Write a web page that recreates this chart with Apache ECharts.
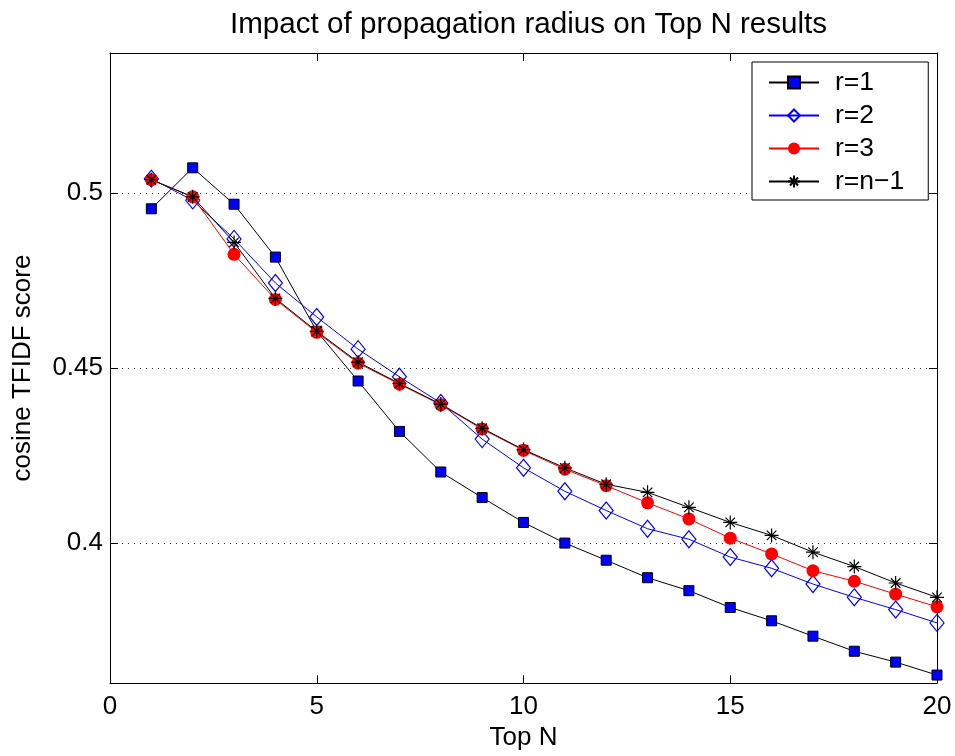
<!DOCTYPE html>
<html>
<head>
<meta charset="utf-8">
<script src="https://cdn.jsdelivr.net/npm/echarts@6/dist/echarts.min.js"></script>
<style>html,body{margin:0;padding:0;background:#fff}#c{width:955px;height:756px}</style>
</head>
<body>
<div id="c"></div>
<script>
const topN = [1,2,3,4,5,6,7,8,9,10,11,12,13,14,15,16,17,18,19,20];
const r1 = [0.4955,0.5072,0.4968,0.4817,0.4605,0.4463,0.4319,0.4203,0.4130,0.4059,0.4000,0.3951,0.3901,0.3864,0.3816,0.3778,0.3734,0.3691,0.3660,0.3623];
const r2 = [0.5041,0.4979,0.4869,0.4743,0.4646,0.4554,0.4475,0.4400,0.4297,0.4215,0.4148,0.4093,0.4041,0.4011,0.3960,0.3928,0.3883,0.3845,0.3810,0.3772];
const r3 = [0.5038,0.4989,0.4825,0.4696,0.4602,0.4514,0.4454,0.4395,0.4326,0.4265,0.4211,0.4164,0.4115,0.4069,0.4014,0.3969,0.3921,0.3891,0.3854,0.3818];
const rn = [0.5038,0.4989,0.4859,0.4699,0.4605,0.4517,0.4456,0.4397,0.4328,0.4267,0.4215,0.4168,0.4145,0.4102,0.4059,0.4022,0.3974,0.3933,0.3886,0.3845];
const seriesNames = ['r=1','r=2','r=3','r=n\u22121'];
const yTicks = [0.4, 0.45, 0.5];
const xMin = 0, xMax = 20, xStep = 5;
const yMin = 0.36, yMax = 0.54;

const FONT = 'Liberation Sans, Arial, Helvetica, sans-serif';
const pairs = arr => arr.map((v, i) => [topN[i], v]);
const STAR = 'path://M5 0 L5 10 M0 5 L10 5 M1.6 1.6 L8.4 8.4 M1.6 8.4 L8.4 1.6';

const chart = echarts.init(document.getElementById('c'), null, {renderer: 'canvas'});
const axisCommon = {
  axisLine: {show: true, onZero: false, lineStyle: {color: '#000', width: 1}},
  axisTick: {show: true, inside: true, length: 8, lineStyle: {color: '#000', width: 1}},
};
chart.setOption({
  animation: false,
  backgroundColor: '#fff',
  textStyle: {fontFamily: FONT},
  title: {
    text: 'Impact of propagation radius on Top N results',
    left: 225, top: 5,
    textStyle: {fontFamily: FONT, fontSize: 29.6, fontWeight: 'normal', color: '#000'}
  },
  grid: {left: 110, right: 18, top: 53, bottom: 68, containLabel: false},
  legend: {
    orient: 'vertical',
    left: 752, top: 62,
    itemWidth: 50, itemHeight: 15, itemGap: 6,
    padding: [7, 24, 5, 16],
    backgroundColor: '#fff',
    borderColor: '#000', borderWidth: 1,
    textStyle: {fontFamily: FONT, fontSize: 26.5, color: '#000', padding: [0, 0, 0, 11]},
    data: seriesNames
  },
  xAxis: [
    Object.assign({}, axisCommon, {
      type: 'value', min: xMin, max: xMax, interval: xStep, position: 'bottom',
      name: 'Top N', nameLocation: 'middle', nameGap: 38,
      nameTextStyle: {fontFamily: FONT, fontSize: 26, color: '#000'},
      axisLabel: {show: true, margin: 11, fontSize: 26, color: '#000', fontFamily: FONT},
      splitLine: {show: false}
    }),
    Object.assign({}, axisCommon, {
      type: 'value', min: xMin, max: xMax, interval: xStep, position: 'top',
      axisLabel: {show: false}, splitLine: {show: false}
    })
  ],
  yAxis: [
    Object.assign({}, axisCommon, {
      type: 'value', min: yMin, max: yMax, position: 'left',
      name: 'cosine TFIDF score', nameLocation: 'middle', nameGap: 74,
      nameTextStyle: {fontFamily: FONT, fontSize: 26, color: '#000'},
      axisTick: {show: true, inside: true, length: 8, lineStyle: {color: '#000', width: 1}, customValues: yTicks},
      axisLabel: {show: true, margin: 7, fontSize: 26, color: '#000', fontFamily: FONT, customValues: yTicks, formatter: v => String(v)},
      splitLine: {show: true, lineStyle: {color: '#333', width: 1, type: [1, 5]}}
    }),
    Object.assign({}, axisCommon, {
      type: 'value', min: yMin, max: yMax, position: 'right',
      axisTick: {show: true, inside: true, length: 8, lineStyle: {color: '#000', width: 1}, customValues: yTicks},
      axisLabel: {show: false, customValues: yTicks},
      splitLine: {show: false}
    })
  ],
  series: [
    {
      name: seriesNames[0], type: 'line', data: pairs(r1),
      symbol: 'rect', symbolSize: 10, showAllSymbol: true,
      lineStyle: {color: '#000', width: 1},
      itemStyle: {color: '#0000ff', borderColor: '#000', borderWidth: 1}
    },
    {
      name: seriesNames[1], type: 'line', data: pairs(r2),
      symbol: 'diamond', symbolSize: [14, 17], showAllSymbol: true,
      lineStyle: {color: '#0000ff', width: 1},
      itemStyle: {color: 'rgba(255,255,255,0)', borderColor: '#0000ff', borderWidth: 1.2}
    },
    {
      name: seriesNames[2], type: 'line', data: pairs(r3),
      symbol: 'circle', symbolSize: 13, showAllSymbol: true,
      lineStyle: {color: '#ff0000', width: 1},
      itemStyle: {color: '#ff0000', borderColor: '#ff0000', borderWidth: 0}
    },
    {
      name: seriesNames[3], type: 'line', data: pairs(rn),
      symbol: STAR, symbolSize: 14, showAllSymbol: true,
      lineStyle: {color: '#000', width: 1},
      itemStyle: {color: 'rgba(0,0,0,0)', borderColor: '#000', borderWidth: 1.2}
    }
  ]
});
</script>
</body>
</html>
